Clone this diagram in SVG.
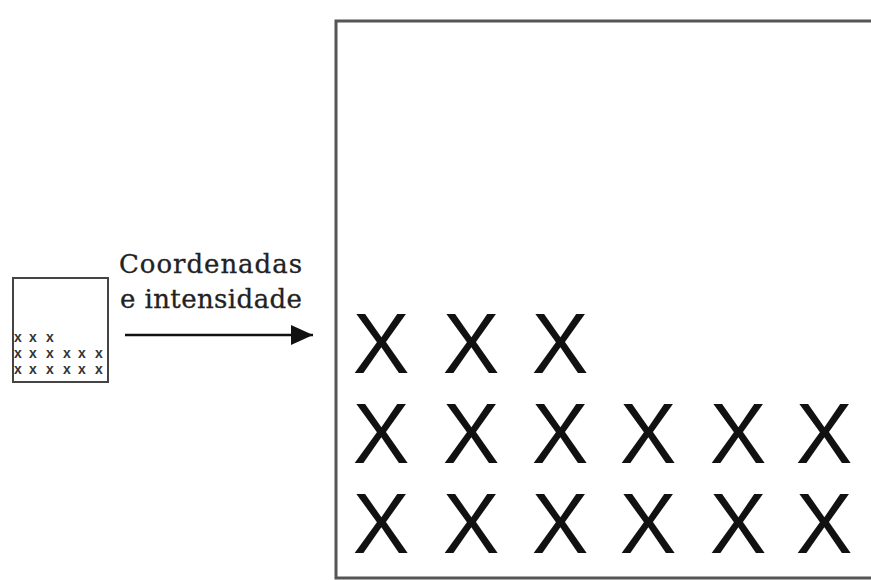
<svg xmlns="http://www.w3.org/2000/svg" width="871" height="580" viewBox="0 0 871 580">
<style>
.big{font-family:"Liberation Sans",Arial,sans-serif;font-size:85px;fill:#111;text-anchor:middle}
.sm{font-family:"Liberation Sans",Arial,sans-serif;font-size:14px;font-weight:bold;fill:#333;text-anchor:middle}
.lbl{font-family:"DejaVu Serif","Liberation Serif",serif;font-size:26px;fill:#222;stroke:#222;stroke-width:0.3}
</style>
<defs>
<marker id="ah" markerWidth="22" markerHeight="20" refX="22" refY="10" orient="auto" markerUnits="userSpaceOnUse" viewBox="0 0 22 20">
<path d="M0,0 L22,10 L0,20 Z" fill="#111"/>
</marker>
</defs>
<rect width="871" height="580" fill="#fff"/>
<g id="small-screen">
<rect x="13" y="278" width="95" height="104" fill="#fff" stroke="#444" stroke-width="2"/>
<g class="sm">
<text x="18" y="342">x</text><text x="33" y="342">x</text><text x="50" y="342">x</text>
<text x="18" y="358">x</text><text x="33" y="358">x</text><text x="50" y="358">x</text><text x="67" y="358">x</text><text x="82" y="358">x</text><text x="99" y="358">x</text>
<text x="18" y="374">x</text><text x="33" y="374">x</text><text x="50" y="374">x</text><text x="67" y="374">x</text><text x="82" y="374">x</text><text x="99" y="374">x</text>
</g>
</g>
<g id="label">
<text class="lbl" x="119" y="273" textLength="183" lengthAdjust="spacing">Coordenadas</text>
<text class="lbl" x="120" y="308" textLength="182" lengthAdjust="spacing">e intensidade</text>
</g>
<g id="connectors">
<line x1="125" y1="335" x2="313" y2="335" stroke="#111" stroke-width="2.5" marker-end="url(#ah)"/>
</g>
<g id="large-screen">
<rect x="336" y="21" width="560" height="557" fill="#fff" stroke="#555" stroke-width="3"/>
<g class="big">
<text x="381" y="373">X</text><text x="471" y="373">X</text><text x="560" y="373">X</text>
<text x="381" y="463">X</text><text x="471" y="463">X</text><text x="560" y="463">X</text><text x="648" y="463">X</text><text x="738" y="463">X</text><text x="824" y="463">X</text>
<text x="381" y="553">X</text><text x="471" y="553">X</text><text x="560" y="553">X</text><text x="648" y="553">X</text><text x="738" y="553">X</text><text x="824" y="553">X</text>
</g>
</g>
</svg>
